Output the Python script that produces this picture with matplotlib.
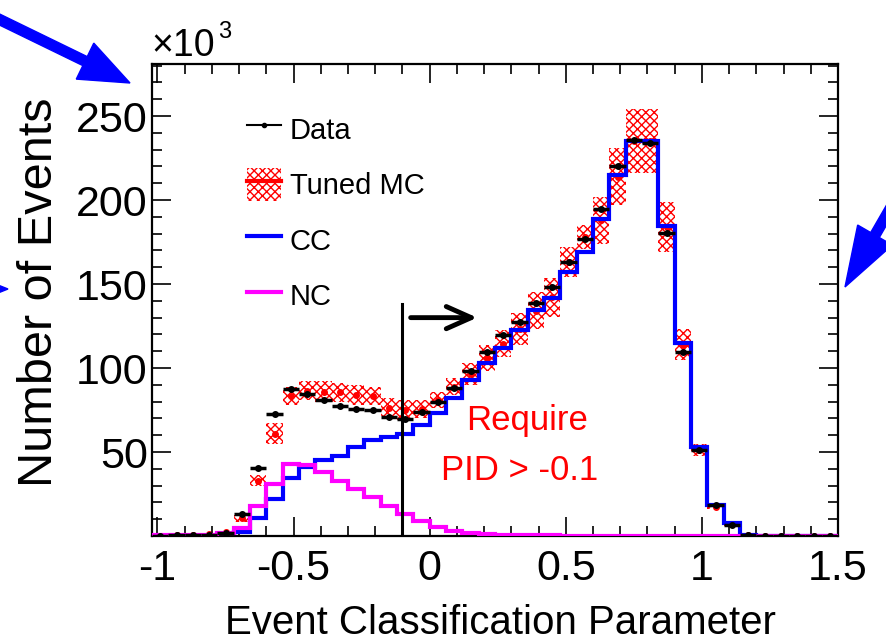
import numpy as np
import matplotlib
matplotlib.use("Agg")
import matplotlib.pyplot as plt
from matplotlib.patches import Rectangle, FancyArrow
from matplotlib.lines import Line2D
from matplotlib.ticker import MultipleLocator, FixedLocator

plt.rcParams['font.family'] = ['Liberation Sans', 'DejaVu Sans']
plt.rcParams['axes.unicode_minus'] = False
plt.rcParams['hatch.linewidth'] = 1.0

# ---- data (x10^3 events), 42 bins of 0.06 from -1.02 to 1.5
edges = np.round(-1.02 + 0.06 * np.arange(43), 3)
centers = 0.5 * (edges[:-1] + edges[1:])

data = [0.2, 0.4, 0.6, 0.8, 1.5, 13.0, 40.7, 72.4, 87.5, 84.5,
        81.0, 77.4, 75.5, 74.8, 71.0, 69.5, 73.6, 79.5, 88.0, 98.2,
        109.5, 119.6, 127.3, 139.0, 148.0, 163.0, 177.0, 194.6, 220.0, 236.0,
        234.0, 180.5, 109.7, 51.0, 18.5, 6.5, 0.3, 0.0, 0.0, 0.0,
        0.0, 0.0]

tuned_mc = [0.2, 0.4, 0.6, 1.0, 2.5, 10.5, 33.0, 61.0, 83.5, 86.5,
            86.0, 85.5, 84.0, 83.5, 76.5, 75.0, 75.5, 81.0, 89.0, 96.5,
            106.0, 114.5, 123.0, 134.0, 142.0, 163.0, 178.0, 188.0, 214.0, 235.0,
            235.0, 184.0, 114.0, 51.0, 17.5, 7.0, 0.5, 0.0, 0.0, 0.0,
            0.0, 0.0]

tuned_mc_err = [0.1, 0.1, 0.1, 0.2, 0.5, 2.0, 3.5, 6.0, 5.5, 5.5,
                6.0, 5.5, 6.0, 5.5, 5.5, 6.0, 5.5, 5.0, 5.0, 6.5,
                7.5, 8.0, 9.5, 11.0, 11.5, 9.0, 7.0, 14.0, 17.0, 19.0,
                19.0, 15.0, 9.0, 3.5, 1.5, 1.0, 0.2, 0.0, 0.0, 0.0,
                0.0, 0.0]

cc = [0.0, 0.0, 0.0, 0.0, 0.3, 2.5, 11.0, 22.0, 34.5, 41.0,
      45.0, 47.5, 53.0, 57.0, 59.0, 60.7, 66.0, 73.0, 82.0, 93.0,
      103.0, 112.0, 122.6, 134.5, 141.5, 157.0, 169.0, 189.0, 215.0, 235.0,
      235.0, 184.5, 115.0, 53.0, 18.5, 7.5, 0.5, 0.0, 0.0, 0.0,
      0.0, 0.0]

nc = [0.3, 0.4, 0.5, 0.8, 1.5, 5.0, 18.0, 31.0, 43.0, 42.0,
      38.0, 33.0, 28.0, 23.0, 18.0, 13.0, 9.0, 5.5, 3.0, 2.0,
      1.2, 0.8, 0.5, 0.4, 0.3, 0.2, 0.2, 0.1, 0.1, 0.1,
      0.1, 0.1, 0.1, 0.1, 0.1, 0.1, 0.1, 0.1, 0.1, 0.1,
      0.1, 0.1]

cut = -0.1
x_ticks = [-1, -0.5, 0, 0.5, 1, 1.5]
x_ticklabels = ["-1", "-0.5", "0", "0.5", "1", "1.5"]
y_ticks = [50, 100, 150, 200, 250]

# ---- figure
W, H = 886, 644
fig = plt.figure(figsize=(W / 100, H / 100), dpi=100)
ax = fig.add_axes([152 / W, 1 - 536 / H, (838 - 152) / W, (536 - 64) / H])

mc = np.array(tuned_mc)
mce = np.array(tuned_mc_err)
ax.bar(centers, 2 * mce, bottom=mc - mce, width=0.06, facecolor='none',
       edgecolor='red', hatch='xxxx', linewidth=0, zorder=1)
ax.plot(centers, mc, 'o', color='red', ms=4, zorder=1.5)

ax.stairs(cc, edges, color='blue', lw=3, zorder=2)
ax.stairs(nc, edges, color='magenta', lw=3, zorder=3)

ax.errorbar(centers, data, xerr=0.03, yerr=1.0, fmt='o', color='black',
            ms=4, elinewidth=2.5, capsize=0, zorder=4)

# cut line and arrow
ax.plot([cut, cut], [0, 138], color='black', lw=2.2, zorder=5)
ax.annotate('', xy=(cut + 0.285, 130), xytext=(cut + 0.02, 130),
            arrowprops=dict(arrowstyle='->,head_length=0.9,head_width=0.4',
                            color='black', lw=3.5, mutation_scale=20))

ax.text(0.357, 69, 'Require', color='red', fontsize=25, ha='center', va='center')
ax.text(0.33, 39, 'PID > -0.1', color='red', fontsize=25, ha='center', va='center')

ax.set_xlim(-1.02, 1.5)
ax.set_ylim(0, 281)
ax.xaxis.set_major_locator(FixedLocator(x_ticks))
ax.set_xticklabels(x_ticklabels)
ax.xaxis.set_minor_locator(MultipleLocator(0.1))
ax.yaxis.set_major_locator(FixedLocator(y_ticks))
ax.yaxis.set_minor_locator(MultipleLocator(10))
ax.tick_params(which='both', direction='in', top=True, right=True, width=1.2)
ax.tick_params(which='major', length=14, labelsize=31)
ax.tick_params(which='minor', length=7)
ax.tick_params(axis='x', which='major', pad=9)
ax.tick_params(axis='y', which='major', pad=3)
for s in ax.spines.values():
    s.set_linewidth(1.6)

# legend
h_data = Line2D([], [], color='black', lw=1.5, marker='o', ms=3)
h_mc = (Rectangle((0, 0), 1, 1, facecolor='none', edgecolor='red',
                  hatch='xxxx', linewidth=0),
        Line2D([], [], color='red', lw=3))
h_cc = Line2D([], [], color='blue', lw=3)
h_nc = Line2D([], [], color='magenta', lw=3)
ax.legend([h_data, h_mc, h_cc, h_nc], ['Data', 'Tuned MC', 'CC', 'NC'],
          loc='upper left', bbox_to_anchor=(247 / W, 1 - 112 / H),
          bbox_transform=fig.transFigure, frameon=False, fontsize=21,
          handlelength=1.17, handleheight=1.4, labelspacing=0.75,
          handletextpad=0.3, borderpad=0, borderaxespad=0)

# axis titles
fig.text(500 / W, 1 - 623 / H, 'Event Classification Parameter',
         fontsize=29, ha='center', va='center')
fig.text(40 / W, 1 - 292 / H, 'Number of Events', fontsize=35,
         rotation=90, ha='center', va='center')
fig.text(151 / W, 1 - 46 / H, '×10', fontsize=27, ha='left', va='center')
fig.text(218 / W, 1 - 32 / H, '3', fontsize=17, ha='left', va='center')

# blue pointer arrows around the figure
tr = fig.dpi_scale_trans
for (tx, ty, dx, dy, hl) in [(-0.20, 6.34, 1.50, -0.73, 0.50),
                             (9.70, 5.735, -1.25, -2.165, 0.60),
                             (-1.00, 3.55, 1.08, 0.0, 0.50)]:
    fig.add_artist(FancyArrow(tx, ty, dx, dy, width=0.10, head_width=0.40,
                              head_length=hl, length_includes_head=True,
                              color='blue', transform=tr))

fig.savefig('out.png', dpi=100)
